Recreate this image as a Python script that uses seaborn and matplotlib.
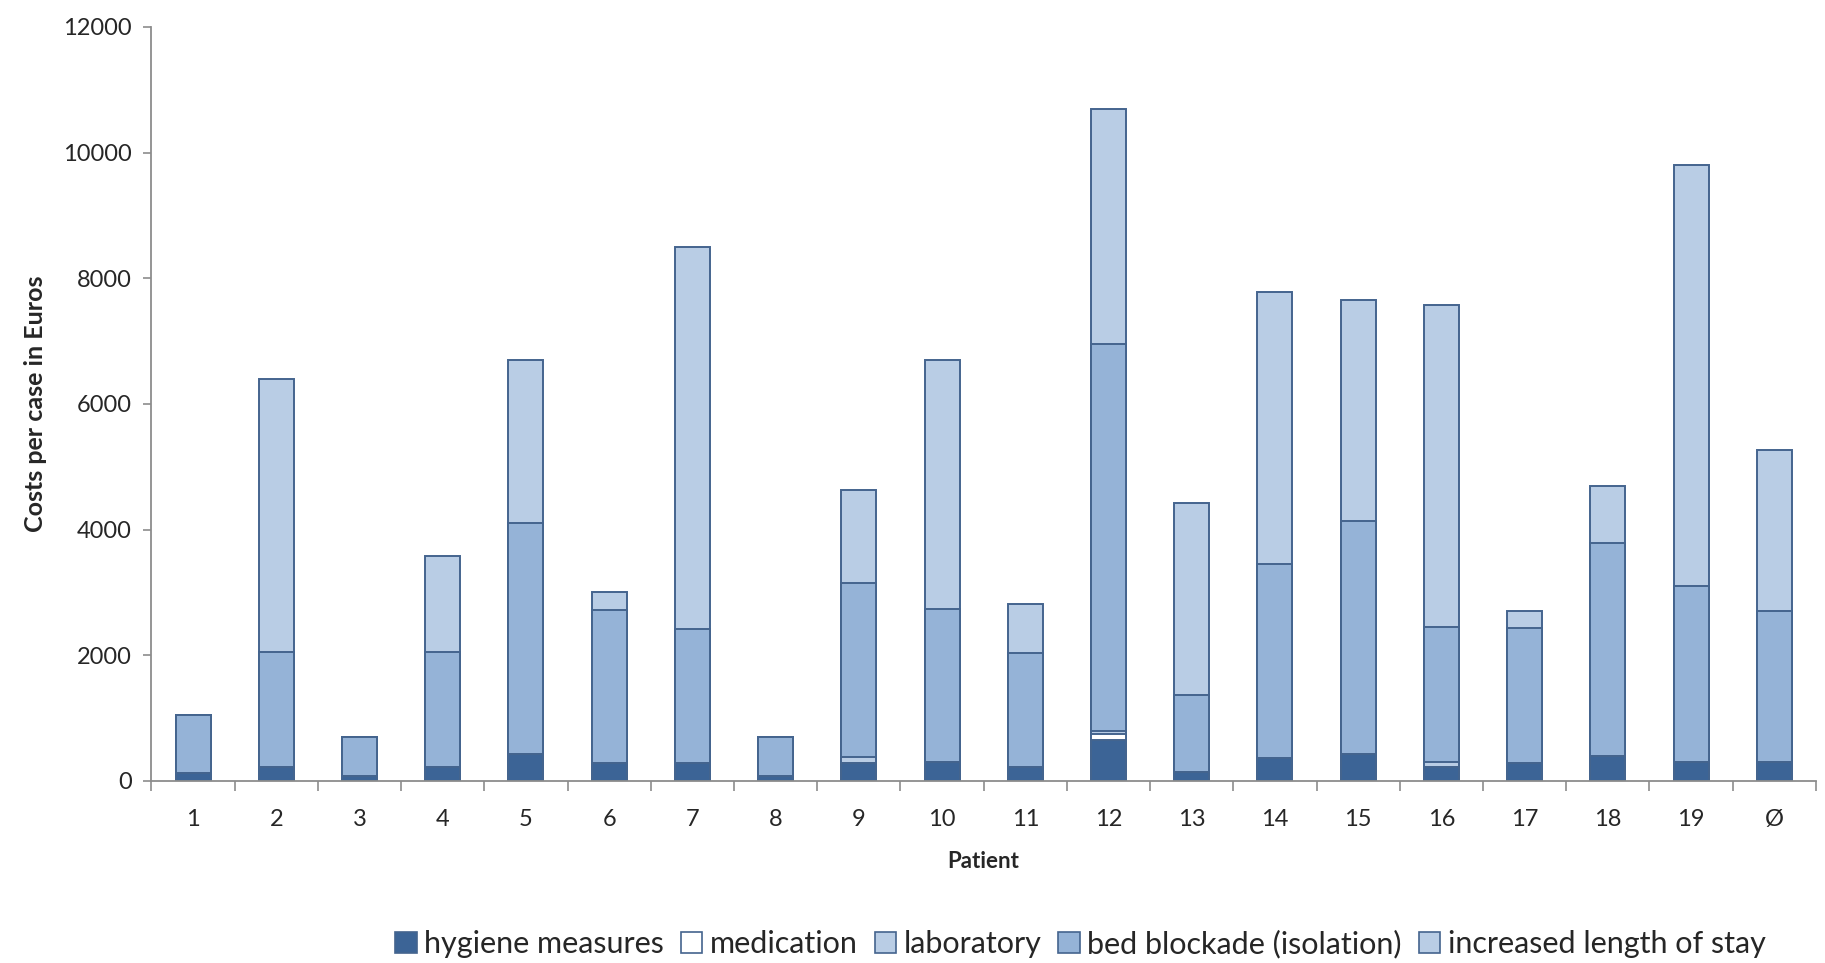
import numpy as np
import pandas as pd
import matplotlib
matplotlib.use("Agg")
import matplotlib.pyplot as plt
from matplotlib.patches import Patch
import seaborn as sns

# Values (Euros per case)
patients = ['1', '2', '3', '4', '5', '6', '7', '8', '9', '10',
            '11', '12', '13', '14', '15', '16', '17', '18', '19', 'Ø']
hygiene = [125, 230, 85, 230, 430, 280, 280, 85, 280, 295,
           230, 650, 150, 360, 435, 215, 280, 395, 310, 300]
medication = [0, 0, 0, 0, 0, 0, 0, 0, 0, 0,
              0, 90, 0, 0, 0, 0, 0, 0, 0, 0]
laboratory = [0, 0, 0, 0, 0, 0, 0, 0, 100, 0,
              0, 60, 0, 0, 0, 90, 0, 0, 0, 0]
bed_blockade = [925, 1820, 615, 1820, 3670, 2440, 2140, 615, 2770, 2445,
                1810, 6150, 1220, 3090, 3695, 2145, 2150, 3385, 2790, 2410]
length_of_stay = [0, 4350, 0, 1530, 2600, 280, 6080, 0, 1480, 3960,
                  780, 3750, 3050, 4330, 3530, 5130, 270, 920, 6700, 2560]

labels = ['hygiene measures', 'medication', 'laboratory',
          'bed blockade (isolation)', 'increased length of stay']
colors = ['#3C6496', '#FFFFFF', '#B9CDE5', '#95B3D7', '#B9CDE5']
edge = '#44648E'

df = pd.DataFrame({
    'Patient': patients,
    labels[0]: hygiene,
    labels[1]: medication,
    labels[2]: laboratory,
    labels[3]: bed_blockade,
    labels[4]: length_of_stay,
})
# cumulative heights so the bars can be drawn on top of each other
cum = df[labels].cumsum(axis=1)

sns.set_style('white')
plt.rcParams['font.family'] = ['Lato', 'DejaVu Sans']

fig = plt.figure(figsize=(18.25, 9.63), dpi=100)
ax = fig.add_axes([0.083, 0.189, 0.912, 0.783])

# draw from the top segment down, each bar covering the one before
for lab, col in reversed(list(zip(labels, colors))):
    sns.barplot(x=df['Patient'], y=cum[lab], order=patients, color=col,
                saturation=1, width=0.42, edgecolor=edge, linewidth=1.4,
                ax=ax)

ax.set_xlim(-0.5, 19.5)
ax.set_ylim(0, 12000)
ax.set_yticks(np.arange(0, 12001, 2000))
ax.set_xlabel('Patient', fontsize=16, fontweight='bold', labelpad=15)
ax.set_ylabel('Costs per case in Euros', fontsize=18, fontweight='bold', labelpad=12)

for s in ['top', 'right']:
    ax.spines[s].set_visible(False)
for s in ['left', 'bottom']:
    ax.spines[s].set_color('#8C8C8C')
    ax.spines[s].set_linewidth(1.3)

ax.tick_params(axis='y', which='major', direction='out', length=6, width=1.2,
               color='#8C8C8C', labelsize=17, pad=8, left=True)
ax.tick_params(axis='x', which='major', length=0, labelsize=17, pad=20)
ax.set_xticks(np.arange(-0.5, 20, 1), minor=True)
ax.tick_params(axis='x', which='minor', direction='out', length=7, width=1.2,
               color='#8C8C8C', bottom=True)

handles = [Patch(facecolor=c, edgecolor=edge, linewidth=1.2) for c in colors]
fig.legend(handles, labels, loc='center', bbox_to_anchor=(0.592, 0.02), ncol=5,
           frameon=False, fontsize=22, handlelength=0.7, handleheight=0.7,
           handletextpad=0.25, columnspacing=0.55)

fig.savefig('out.png', dpi=100)
